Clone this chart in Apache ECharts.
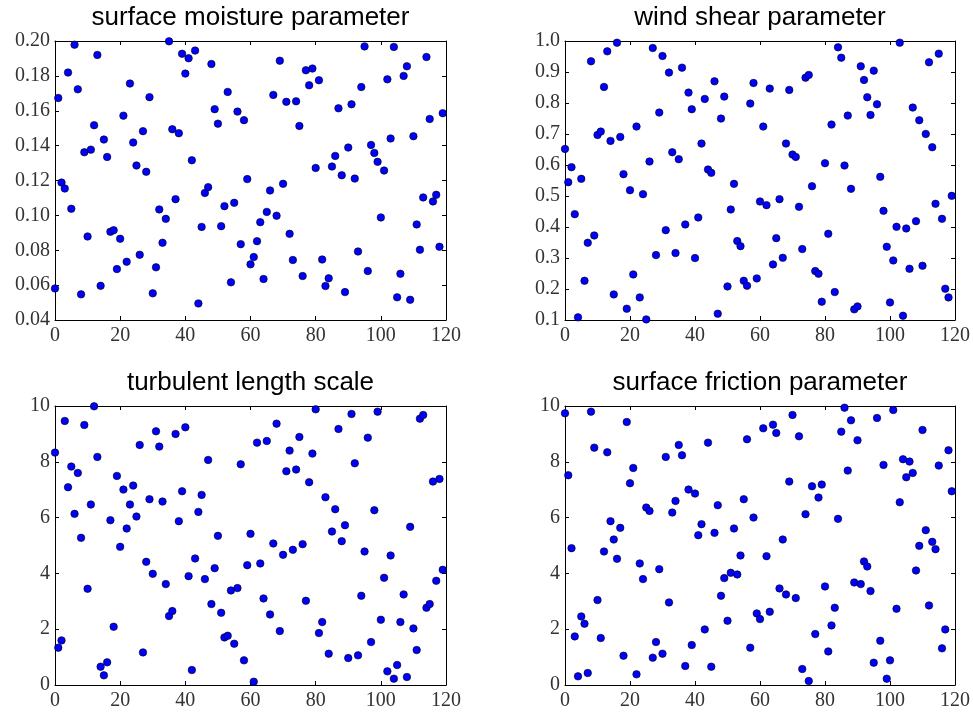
<!DOCTYPE html>
<html>
<head>
<meta charset="utf-8">
<script src="https://cdn.jsdelivr.net/npm/echarts@6/dist/echarts.min.js"></script>
<style>html,body{margin:0;padding:0;background:#fff;}#c{width:973px;height:713px;}</style>
</head>
<body>
<div id="c"></div>
<script>
// ---- data ----
const titles = ['surface moisture parameter', 'wind shear parameter', 'turbulent length scale', 'surface friction parameter'];
const xTicks = [0, 20, 40, 60, 80, 100, 120];
const moisture = [0.0581,0.1673,0.1188,0.1154,0.1819,0.1038,0.1979,0.1723,0.0547,0.1362,0.0879,0.1377,0.1517,0.1920,0.0596,0.1435,0.1335,0.0906,0.0915,0.0692,0.0866,0.1572,0.0734,0.1756,0.1418,0.1286,0.0774,0.1483,0.1250,0.1678,0.0553,0.0702,0.1034,0.0843,0.0980,0.1998,0.1494,0.1093,0.1471,0.1927,0.1813,0.1901,0.1316,0.1945,0.0495,0.0934,0.1129,0.1162,0.1868,0.1609,0.1526,0.0938,0.1053,0.1708,0.0616,0.1072,0.1595,0.0835,0.1546,0.1208,0.0719,0.0761,0.0852,0.0961,0.0635,0.1020,0.1143,0.1691,0.0998,0.1887,0.1181,0.1651,0.0894,0.0744,0.1654,0.1513,0.0652,0.1832,0.1746,0.1842,0.1272,0.1775,0.0747,0.0595,0.0639,0.1280,0.1341,0.1614,0.1230,0.0560,0.1389,0.1637,0.1211,0.0793,0.1736,0.1969,0.0681,0.1404,0.1358,0.1307,0.0988,0.1257,0.1780,0.1441,0.1966,0.0530,0.0665,0.1800,0.1855,0.0516,0.1454,0.0948,0.0803,0.1103,0.1908,0.1553,0.1080,0.1118,0.0820,0.1586];
const windShear = [0.652,0.5446,0.5929,0.4415,0.1085,0.5553,0.2266,0.3491,0.9345,0.3727,0.6971,0.7078,0.8518,0.9667,0.6778,0.1826,0.9946,0.6907,0.5704,0.1364,0.5188,0.2470,0.7240,0.1729,0.5059,0.1020,0.6112,0.9774,0.3093,0.7691,0.9517,0.3899,0.8980,0.6412,0.3158,0.6187,0.9141,0.4082,0.8335,0.7798,0.2997,0.4307,0.6692,0.8131,0.5854,0.5747,0.8700,0.1203,0.7497,0.8206,0.2084,0.4565,0.5392,0.3545,0.3383,0.2266,0.2105,0.7981,0.8647,0.2342,0.4823,0.7240,0.4705,0.8464,0.2793,0.3641,0.4898,0.3008,0.6692,0.8421,0.6337,0.6262,0.4651,0.3287,0.8818,0.8904,0.5317,0.2578,0.2492,0.1590,0.6058,0.3781,0.7304,0.1901,0.9796,0.9463,0.5983,0.7594,0.5231,0.1343,0.1439,0.9184,0.8743,0.8185,0.7615,0.9044,0.7959,0.5618,0.4522,0.3362,0.1568,0.2922,0.4006,0.9946,0.1138,0.3953,0.2653,0.7852,0.4189,0.7444,0.2750,0.7003,0.9313,0.6574,0.4748,0.9592,0.4264,0.2009,0.1729,0.5005];
const turbLength = [8.329,1.337,1.599,9.463,7.088,7.828,6.134,7.601,5.274,9.320,3.449,6.468,9.988,8.174,0.656,0.346,0.811,5.907,2.088,7.494,4.952,7.005,5.609,6.468,7.148,6.038,8.604,1.169,4.415,6.659,3.986,9.093,8.544,6.575,3.616,2.470,2.649,8.998,5.871,6.945,9.236,3.902,0.537,4.535,6.205,6.814,3.795,8.067,2.900,4.189,5.346,2.589,1.706,1.766,3.389,1.480,3.473,7.912,0.883,4.296,5.418,0.119,8.687,4.356,3.103,8.747,2.530,5.072,9.368,1.933,4.666,7.661,8.401,4.845,7.721,8.890,5.048,3.019,7.267,8.294,9.881,1.862,2.255,6.730,1.122,5.501,6.301,9.177,5.155,5.728,0.967,9.714,7.947,1.062,3.198,4.785,8.866,1.539,6.265,9.797,2.339,3.842,0.489,4.642,0.227,0.716,2.255,3.246,0.286,5.668,2.029,1.253,9.547,9.678,2.768,2.900,7.291,3.735,7.387,4.129];
const friction = [9.737,7.518,4.905,1.742,0.310,2.458,2.196,0.430,9.797,8.508,3.043,1.683,4.785,8.341,5.871,5.215,4.523,5.632,1.050,9.427,7.232,7.780,0.382,4.356,3.795,6.360,6.241,0.979,1.539,4.153,1.122,8.174,2.959,6.181,6.599,8.604,8.234,0.680,7.005,1.432,6.862,5.370,5.764,1.993,8.687,0.656,5.453,6.444,3.198,3.831,2.303,4.021,5.609,3.962,4.642,6.659,8.807,1.337,6.002,2.566,2.363,9.200,4.618,2.625,9.332,9.033,3.461,5.215,3.246,7.291,9.678,3.115,8.914,0.573,6.122,0.143,7.124,1.826,6.718,7.184,3.532,1.205,2.136,2.768,5.955,9.081,9.940,7.685,9.487,3.675,8.771,3.616,4.427,4.248,3.365,0.800,9.570,1.587,7.888,0.227,0.883,9.857,2.733,6.551,8.091,7.446,8.007,7.601,4.105,4.988,9.141,5.549,2.852,5.131,4.869,7.864,1.313,1.993,8.413,6.945];
const yRanges = [
  {min: 0.04, max: 0.20, interval: 0.02, digits: 2},
  {min: 0.1, max: 1.0, interval: 0.1, digits: 1},
  {min: 0, max: 10, interval: 2, digits: 0},
  {min: 0, max: 10, interval: 2, digits: 0}
];
const seriesValues = [moisture, windShear, turbLength, friction];

// ---- layout ----
const grids = [
  {left: 55, top: 41, width: 391, height: 279},
  {left: 565, top: 41, width: 390, height: 279},
  {left: 55, top: 406, width: 391, height: 279},
  {left: 565, top: 406, width: 390, height: 279}
];
const lineStyle = {color: '#000', width: 1};
const labelFont = {fontFamily: 'Liberation Serif', fontSize: 20, color: '#333'};

const xAxes = [], yAxes = [], series = [], titleArr = [];
grids.forEach((g, i) => {
  const yr = yRanges[i];
  titleArr.push({
    text: titles[i], left: g.left + g.width / 2, top: g.top - 36, textAlign: 'center', padding: 0,
    textStyle: {fontFamily: 'Liberation Sans', fontSize: 26, fontWeight: 'normal', color: '#000'}
  });
  ['bottom', 'top'].forEach((pos, k) => {
    xAxes.push({
      type: 'value', gridIndex: i, position: pos, min: 0, max: 120, interval: 20,
      axisLine: {show: true, onZero: false, lineStyle},
      axisTick: {show: true, inside: true, length: 4, lineStyle},
      axisLabel: k === 0 ? Object.assign({show: true, margin: 6, formatter: v => String(v)}, labelFont) : {show: false},
      splitLine: {show: false}
    });
  });
  ['left', 'right'].forEach((pos, k) => {
    yAxes.push({
      type: 'value', gridIndex: i, position: pos, min: yr.min, max: yr.max, interval: yr.interval,
      axisLine: {show: true, onZero: false, lineStyle},
      axisTick: {show: true, inside: true, length: 4, lineStyle},
      axisLabel: k === 0 ? Object.assign({show: true, margin: 5, formatter: v => v.toFixed(yr.digits)}, labelFont) : {show: false},
      splitLine: {show: false}
    });
  });
  series.push({
    type: 'scatter', xAxisIndex: 2 * i, yAxisIndex: 2 * i,
    symbol: 'circle', symbolSize: 7.5,
    itemStyle: {color: '#0000ff', borderColor: '#000', borderWidth: 0.6, opacity: 1},
    data: seriesValues[i].map((v, idx) => [idx, v]),
    animation: false
  });
});

const chart = echarts.init(document.getElementById('c'), null, {renderer: 'canvas'});
chart.setOption({
  animation: false,
  backgroundColor: '#fff',
  title: titleArr,
  grid: grids,
  xAxis: xAxes,
  yAxis: yAxes,
  series: series
});
</script>
</body>
</html>
